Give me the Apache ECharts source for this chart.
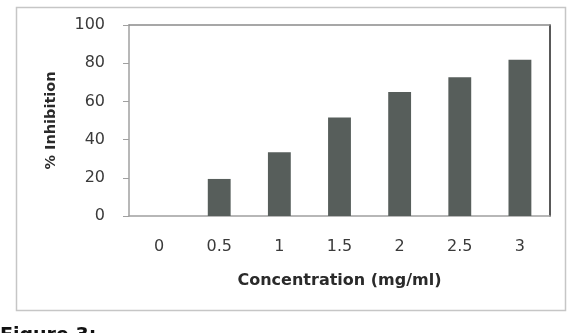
<!DOCTYPE html>
<html><head><meta charset="utf-8">
<script src="https://cdn.jsdelivr.net/npm/echarts@6/dist/echarts.min.js"></script>
<style>html,body{margin:0;padding:0;background:#fff}#c{width:577px;height:333px}</style>
</head><body><div id="c"></div>
<script>
const categories = ['0', '0.5', '1', '1.5', '2', '2.5', '3'];
const inhibition = [0, 19.4, 33.4, 51.6, 64.9, 72.6, 81.8];
const yTicks = [0, 20, 40, 60, 80, 100];
const xTitle = 'Concentration (mg/ml)';
const yTitle = '% Inhibition';

const chart = echarts.init(document.getElementById('c'), null, {renderer: 'canvas'});
const font = 'DejaVu Sans';
chart.setOption({
  backgroundColor: '#fff',
  animation: false,
  grid: {left: 129, right: 27, top: 25, bottom: 117, containLabel: false},
  graphic: [
    {type: 'rect', shape: {x: 16.5, y: 7.5, width: 549, height: 303}, style: {fill: 'none', stroke: '#c6c6c6', lineWidth: 1.5}, silent: true},
    {type: 'text', left: 0, top: 327, style: {text: 'Figure 3:', font: 'bold 19px "DejaVu Sans"', fill: '#111'}, silent: true}
  ],
  xAxis: [{
    type: 'category', data: categories, position: 'bottom',
    axisLine: {show: true, onZero: false, lineStyle: {color: '#a0a0a0', width: 1.5}},
    axisTick: {show: false},
    axisLabel: {color: '#3a3a3a', fontFamily: font, fontSize: 16, margin: 23},
    name: xTitle, nameLocation: 'middle', nameGap: 57,
    nameTextStyle: {color: '#2a2a2a', fontFamily: font, fontWeight: 'bold', fontSize: 16}
  }, {
    type: 'category', data: categories, position: 'top',
    axisLine: {show: true, onZero: false, lineStyle: {color: '#8a8a8a', width: 1.5}},
    axisTick: {show: false}, axisLabel: {show: false}
  }],
  yAxis: [{
    type: 'value', min: 0, max: 100, interval: 20,
    axisLine: {show: true, onZero: false, lineStyle: {color: '#a0a0a0', width: 1.5}},
    axisTick: {show: true, length: 6, lineStyle: {color: '#a0a0a0'}},
    splitLine: {show: false},
    axisLabel: {color: '#3a3a3a', fontFamily: font, fontSize: 16, margin: 24,
      formatter: v => yTicks.includes(v) ? String(v) : ''},
    name: yTitle, nameLocation: 'middle', nameGap: 70, nameRotate: 90,
    nameTextStyle: {color: '#2a2a2a', fontFamily: font, fontWeight: 'bold', fontSize: 14.5}
  }, {
    type: 'value', min: 0, max: 100, interval: 20, position: 'right',
    axisLine: {show: true, onZero: false, lineStyle: {color: '#222', width: 1.5}},
    axisTick: {show: false}, axisLabel: {show: false}, splitLine: {show: false}
  }],
  series: [{
    type: 'bar', data: inhibition, barWidth: '38%',
    itemStyle: {color: '#575e5b'}
  }]
});
</script>
</body></html>
